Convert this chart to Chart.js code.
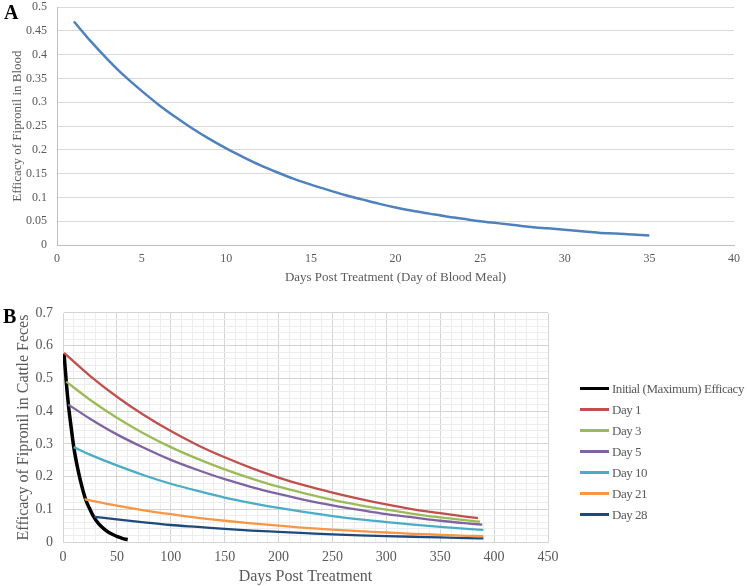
<!DOCTYPE html>
<html><head><meta charset="utf-8">
<script src="https://cdn.jsdelivr.net/npm/chart.js@4"></script>
<style>
body{margin:0;background:#fff;width:747px;height:586px;position:relative;overflow:hidden;font-family:"Liberation Serif","Times New Roman",serif;}
.wrap{position:absolute;left:0;width:747px;}
.lbl{position:absolute;font-weight:bold;font-size:20px;color:#000;}
#legend{position:absolute;left:580px;top:378px;}
.li{height:21px;display:flex;align-items:center;font-size:13px;color:#595959;white-space:nowrap;}
.li span.sw{display:inline-block;width:29px;margin-right:3px;flex:none;}
</style></head>
<body>
<div class="wrap" style="top:-10px;height:300px"><canvas id="cA"></canvas></div>
<div class="wrap" style="top:290px;height:296px"><canvas id="cB"></canvas></div>
<div class="lbl" style="left:4px;top:1px">A</div>
<div class="lbl" style="left:3px;top:305px">B</div>
<div id="legend"></div>
<script>
// ---------- Panel A data ----------
const bloodDays = [1,2,3,4,5,6,7,8,9,10,11,12,13,14,15,16,17,18,19,20,21,22,23,24,25,26,27,28,29,30,31,32,33,34,35];
const bloodEfficacy = [0.470,0.428,0.390,0.355,0.324,0.295,0.269,0.245,0.223,0.203,0.185,0.168,0.153,0.139,0.127,0.116,0.105,0.096,0.087,0.079,0.072,0.066,0.060,0.055,0.050,0.046,0.042,0.038,0.035,0.032,0.029,0.026,0.024,0.022,0.020];
const xTicksA = [0,5,10,15,20,25,30,35,40];
const yTicksA = [0,0.05,0.1,0.15,0.2,0.25,0.3,0.35,0.4,0.45,0.5];

// ---------- Panel B data ----------
const seriesNames = ["Initial (Maximum) Efficacy","Day 1","Day 3","Day 5","Day 10","Day 21","Day 28"];
const seriesColors = ["#000000","#C0504D","#9BBB59","#8064A2","#4BACC6","#F79646","#1F497D"];
const initialDays = [1,3,5,7,10,13,16,21,25,28,33,38,43,50,55,60];
const initialVals = [0.575,0.49,0.42,0.365,0.29,0.235,0.19,0.13,0.10,0.08,0.056,0.04,0.028,0.017,0.011,0.007];
const day1Days = [1,25,50,75,100,125,150,175,200,225,250,275,300,325,350,375,385];
const day1Vals = [0.578,0.508,0.444,0.388,0.339,0.296,0.259,0.226,0.197,0.172,0.151,0.132,0.115,0.100,0.088,0.077,0.073];
const day3Days = [3,25,50,75,100,125,150,175,200,225,250,275,300,325,350,375,387];
const day3Vals = [0.49,0.435,0.380,0.332,0.290,0.254,0.222,0.194,0.169,0.148,0.129,0.113,0.099,0.086,0.075,0.066,0.062];
const day5Days = [5,25,50,75,100,125,150,175,200,225,250,275,300,325,350,375,389];
const day5Vals = [0.42,0.377,0.329,0.288,0.251,0.220,0.192,0.168,0.147,0.128,0.112,0.098,0.085,0.075,0.065,0.057,0.053];
const day10Days = [10,25,50,75,100,125,150,175,200,225,250,275,300,325,350,375,390];
const day10Vals = [0.29,0.267,0.234,0.204,0.178,0.156,0.136,0.119,0.104,0.091,0.079,0.069,0.061,0.053,0.046,0.040,0.037];
const day21Days = [20,25,50,75,100,125,150,175,200,225,250,275,300,325,350,375,390];
const day21Vals = [0.131,0.127,0.111,0.097,0.085,0.074,0.065,0.057,0.050,0.043,0.038,0.033,0.029,0.025,0.022,0.019,0.018];
const day28Days = [29,50,75,100,125,150,175,200,225,250,275,300,325,350,375,390];
const day28Vals = [0.077,0.069,0.060,0.052,0.046,0.040,0.035,0.031,0.027,0.023,0.020,0.018,0.016,0.014,0.012,0.011];
const xMajorB = 50, xMinorB = 10, xMaxB = 450;
const yMajorB = 0.1, yMinorB = 0.02, yMaxB = 0.7;

const FONT = "'Liberation Serif','Times New Roman',serif";
const GREY = "#595959";

// ---------- Chart A ----------
new Chart(document.getElementById('cA'), {
  type: 'line',
  data: { datasets: [{
    data: bloodDays.map((d,i)=>({x:d,y:bloodEfficacy[i]})),
    borderColor: '#4F81BD', borderWidth: 2.5, pointRadius: 0, tension: 0.4, cubicInterpolationMode:'monotone', fill:false
  }]},
  options: {
    responsive: true, maintainAspectRatio: false, animation: false,
    layout: { padding: { top: 16, right: 10, left: 0, bottom: 0 } },
    plugins: { legend: { display: false }, tooltip: { enabled: false } },
    scales: {
      x: { type: 'linear', min: xTicksA[0], max: xTicksA[xTicksA.length-1],
        afterBuildTicks: s => { s.ticks = xTicksA.map(v=>({value:v})); },
        afterFit: s => { s.height = 45; },
        grid: { display: false, drawTicks: false },
        border: { display: true, color: '#BFBFBF', width: 1 },
        ticks: { color: GREY, font: { family: FONT, size: 12 }, padding: 7, maxRotation: 0, autoSkip:false },
        title: { display: true, text: 'Days Post Treatment (Day of Blood Meal)', color: GREY, font: { family: FONT, size: 13 }, padding: { top: 0, bottom: 5 } }
      },
      y: { type: 'linear', min: 0, max: 0.5,
        afterBuildTicks: s => { s.ticks = yTicksA.map(v=>({value:v})); },
        afterFit: s => { s.width = 57; },
        grid: { color: '#D9D9D9', drawTicks: false },
        border: { display: true, color: '#BFBFBF', width: 1 },
        ticks: { color: GREY, font: { family: FONT, size: 12 }, padding: 10,
          callback: v => String(parseFloat(v.toFixed(2))) },
        title: { display: true, text: 'Efficacy of Fipronil in Blood', color: GREY, font: { family: FONT, size: 13 }, padding: { top: 10, bottom: 0 } }
      }
    }
  }
});

// ---------- Chart B ----------
const bX = [initialDays, day1Days, day3Days, day5Days, day10Days, day21Days, day28Days];
const bY = [initialVals, day1Vals, day3Vals, day5Vals, day10Vals, day21Vals, day28Vals];
const isMult = (v, step) => Math.abs(v/step - Math.round(v/step)) < 1e-6;
new Chart(document.getElementById('cB'), {
  type: 'line',
  data: { datasets: seriesNames.map((n,k)=>({
    label: n,
    data: bX[k].map((d,i)=>({x:d,y:bY[k][i]})),
    borderColor: seriesColors[k], borderWidth: k===0?3.5:2.3, pointRadius: 0,
    tension: 0.4, cubicInterpolationMode:'monotone', fill:false, order: k===0? 10: k
  }))},
  options: {
    responsive: true, maintainAspectRatio: false, animation: false,
    layout: { padding: { top: 23, right: 199, left: 0, bottom: 0 } },
    plugins: { legend: { display: false }, tooltip: { enabled: false } },
    scales: {
      x: { type: 'linear', min: 0, max: xMaxB,
        afterBuildTicks: s => { const t=[]; for (let v=0; v<=xMaxB+1e-9; v+=xMinorB) t.push({value:v}); s.ticks=t; },
        afterFit: s => { s.height = 44; },
        grid: { drawTicks: false, color: c => (c.tick && isMult(c.tick.value, xMajorB)) ? '#D4D4D4' : '#EDEDED' },
        border: { display: true, color: '#D4D4D4', width: 1 },
        ticks: { color: GREY, font: { family: FONT, size: 14 }, padding: 7, maxRotation: 0, autoSkip: false,
          callback: v => isMult(v, xMajorB) ? String(Math.round(v)) : '' },
        title: { display: true, text: 'Days Post Treatment', color: GREY, font: { family: FONT, size: 16 }, padding: { top: 0, bottom: 0 } }
      },
      y: { type: 'linear', min: 0, max: yMaxB,
        afterBuildTicks: s => { const t=[]; for (let i=0; i<=Math.round(yMaxB/yMinorB); i++) t.push({value: i*yMinorB}); s.ticks=t; },
        afterFit: s => { s.width = 63; },
        grid: { drawTicks: false, color: c => (c.tick && isMult(c.tick.value, yMajorB)) ? '#D4D4D4' : '#EDEDED' },
        border: { display: true, color: '#D4D4D4', width: 1 },
        ticks: { color: GREY, font: { family: FONT, size: 14 }, padding: 10, autoSkip: false,
          callback: v => isMult(v, yMajorB) ? String(parseFloat(v.toFixed(1))) : '' },
        title: { display: true, text: 'Efficacy of Fipronil in Cattle Feces', color: GREY, font: { family: FONT, size: 16 }, padding: { top: 14, bottom: 0 } }
      }
    }
  }
});

// ---------- Legend ----------
const lg = document.getElementById('legend');
const texts = [];
seriesNames.forEach((n,k)=>{
  const d = document.createElement('div'); d.className='li';
  const sw = document.createElement('span'); sw.className='sw';
  sw.style.height = (k===0?3.5:2.5)+'px'; sw.style.background = seriesColors[k];
  const t = document.createElement('span'); t.textContent = n;
  d.appendChild(sw); d.appendChild(t); lg.appendChild(d); texts.push(t);
});
// fit longest label into the space the reference gives it
const w0 = texts[0].getBoundingClientRect().width;
const target = 132;
if (w0 > target) {
  const ls = (target - w0) / seriesNames[0].length;
  texts.forEach(t => t.style.letterSpacing = ls.toFixed(2) + 'px');
}
</script>
</body></html>
